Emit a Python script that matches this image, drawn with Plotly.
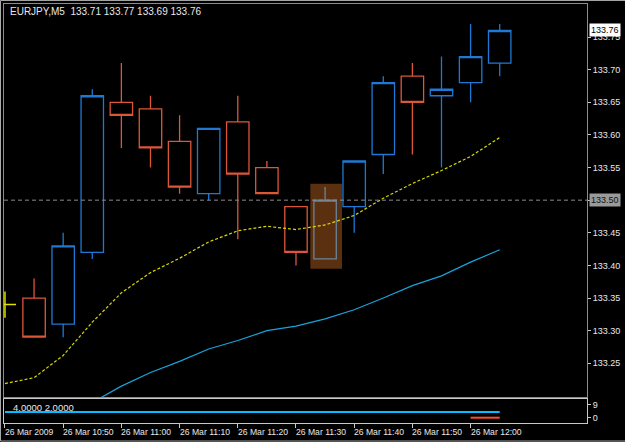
import plotly.graph_objects as go

# ---------------- data ----------------
bar_times = [
    "2009-03-26 10:40", "2009-03-26 10:45", "2009-03-26 10:50", "2009-03-26 10:55",
    "2009-03-26 11:00", "2009-03-26 11:05", "2009-03-26 11:10", "2009-03-26 11:15",
    "2009-03-26 11:20", "2009-03-26 11:25", "2009-03-26 11:30", "2009-03-26 11:35",
    "2009-03-26 11:40", "2009-03-26 11:45", "2009-03-26 11:50", "2009-03-26 11:55",
    "2009-03-26 12:00", "2009-03-26 12:05",
]
# candles from 10:45 to 12:05
c_open  = [133.35, 133.31, 133.42, 133.65, 133.64, 133.59, 133.51, 133.62, 133.55, 133.49,
           133.41, 133.49, 133.57, 133.69, 133.66, 133.68, 133.71]
c_high  = [133.38, 133.45, 133.67, 133.71, 133.66, 133.63, 133.61, 133.66, 133.56, 133.49,
           133.52, 133.56, 133.69, 133.71, 133.72, 133.77, 133.77]
c_low   = [133.29, 133.29, 133.41, 133.58, 133.55, 133.51, 133.50, 133.44, 133.51, 133.40,
           133.41, 133.45, 133.54, 133.57, 133.55, 133.65, 133.69]
c_close = [133.29, 133.43, 133.66, 133.63, 133.58, 133.52, 133.61, 133.54, 133.51, 133.42,
           133.50, 133.56, 133.68, 133.65, 133.67, 133.72, 133.76]
highlight_time = "2009-03-26 11:35"
highlight_box_x = ["2009-03-26 11:32:28", "2009-03-26 11:37:54"]
highlight_box_y = [133.395, 133.525]

# partially visible bar at the left edge (10:40)
edge_high, edge_low, edge_close = 133.36, 133.32, 133.34

ma_fast = [133.219, 133.228, 133.262, 133.313, 133.358, 133.389, 133.411, 133.436, 133.453,
           133.460, 133.455, 133.462, 133.4765, 133.503, 133.5255, 133.5454, 133.567, 133.596]
ma_slow = [None, None, None, 133.19, 133.215, 133.236, 133.253, 133.272, 133.285,
           133.300, 133.307, 133.318, 133.332, 133.350, 133.369, 133.384, 133.405, 133.424]

sub_cyan = [4.0] * 18
sub_red = [None] * 16 + [0.0, 0.0]

price_ticks = [133.25, 133.30, 133.35, 133.40, 133.45, 133.50, 133.55, 133.60, 133.65, 133.70, 133.75]
price_labels = ["133.25", "133.30", "133.35", "133.40", "133.45", "", "133.55", "133.60",
                "133.65", "133.70", "133.75"]
tick_times = ["2009-03-26 10:40", "2009-03-26 10:50", "2009-03-26 11:00", "2009-03-26 11:10",
              "2009-03-26 11:20", "2009-03-26 11:30", "2009-03-26 11:40", "2009-03-26 11:50",
              "2009-03-26 12:00"]
tick_text = ["26 Mar 2009", "26 Mar 10:50", "26 Mar 11:00", "26 Mar 11:10", "26 Mar 11:20",
             "26 Mar 11:30", "26 Mar 11:40", "26 Mar 11:50", "26 Mar 12:00"]
title_text = "EURJPY,M5\u00a0\u00a0133.71 133.77 133.69 133.76"
sub_text = "4.0000 2.0000"
bid_price = 133.76
level_price = 133.50
x_range = ["2009-03-26 10:39:50", "2009-03-26 12:20:00"]
y_range = [133.1984, 133.8006]
y2_range = [-3.76, 13.25]

# ---------------- styling ----------------
FONT = "Liberation Sans, Arial"
TXT = "#e8e8e8"
BULL = "#1e78d4"
BEAR = "#dc5638"
GREYC = "#6a8499"

c_times = bar_times[1:]
norm = [i for i, t in enumerate(c_times) if t != highlight_time]
hl = [i for i, t in enumerate(c_times) if t == highlight_time]

def pick(a, idx):
    return [a[i] for i in idx]

fig = go.Figure()

fig.add_trace(go.Candlestick(
    x=pick(c_times, norm), open=pick(c_open, norm), high=pick(c_high, norm),
    low=pick(c_low, norm), close=pick(c_close, norm),
    increasing=dict(line=dict(color=BULL, width=1.3), fillcolor="rgba(0,0,0,0)"),
    decreasing=dict(line=dict(color=BEAR, width=1.3), fillcolor="rgba(0,0,0,0)"),
    xaxis="x", yaxis="y", hoverinfo="skip",
))
fig.add_trace(go.Candlestick(
    x=pick(c_times, hl), open=pick(c_open, hl), high=pick(c_high, hl),
    low=pick(c_low, hl), close=pick(c_close, hl),
    increasing=dict(line=dict(color=GREYC, width=1.3), fillcolor="rgba(0,0,0,0)"),
    decreasing=dict(line=dict(color=GREYC, width=1.3), fillcolor="rgba(0,0,0,0)"),
    xaxis="x", yaxis="y", hoverinfo="skip",
))
n = len(bar_times)
fig.add_trace(go.Ohlc(
    x=bar_times,
    open=[edge_close] + [None] * (n - 1), high=[edge_high] + [None] * (n - 1),
    low=[edge_low] + [None] * (n - 1), close=[edge_close] + [None] * (n - 1),
    increasing=dict(line=dict(color="#e0e000", width=1.5)),
    decreasing=dict(line=dict(color="#e0e000", width=1.5)),
    tickwidth=0.38, xaxis="x", yaxis="y", hoverinfo="skip",
))
fig.add_trace(go.Scatter(x=bar_times, y=ma_fast, mode="lines",
                         line=dict(color="#d8d800", width=1.2, dash="3px,2px"),
                         xaxis="x", yaxis="y", hoverinfo="skip"))
fig.add_trace(go.Scatter(x=bar_times, y=ma_slow, mode="lines",
                         line=dict(color="#1aa3d9", width=1.2),
                         xaxis="x", yaxis="y", hoverinfo="skip"))
fig.add_trace(go.Scatter(x=bar_times, y=sub_cyan, mode="lines",
                         line=dict(color="#00bfff", width=2),
                         xaxis="x2", yaxis="y2", hoverinfo="skip"))
fig.add_trace(go.Scatter(x=bar_times, y=sub_red, mode="lines",
                         line=dict(color="#ff4a30", width=2),
                         xaxis="x2", yaxis="y2", hoverinfo="skip"))

shapes = [
    dict(type="rect", xref="x", yref="y", layer="below",
         x0=highlight_box_x[0], x1=highlight_box_x[1],
         y0=highlight_box_y[0], y1=highlight_box_y[1],
         fillcolor="#5a3010", line=dict(width=0)),
    dict(type="line", xref="paper", yref="y", x0=0, x1=1, y0=level_price, y1=level_price,
         line=dict(color="#8a8a8a", width=1, dash="4px,3px")),
    # outer window frame
    dict(type="rect", xref="paper", yref="paper", x0=-0.006, x1=1.08, y0=-0.0430, y1=1.0084,
         line=dict(color="#a8a8a8", width=1)),
]

annotations = [
    dict(text=title_text, xref="paper", yref="paper", x=0.0069, y=0.981,
         xanchor="left", yanchor="middle", showarrow=False,
         font=dict(family=FONT, size=10, color=TXT)),
    dict(text=sub_text, xref="paper", yref="paper", x=0.012, y=0.0365,
         xanchor="left", yanchor="middle", showarrow=False,
         font=dict(family=FONT, size=9.5, color=TXT)),
    dict(text=f"{bid_price:.2f}", xref="paper", yref="y", x=1, y=bid_price, xshift=2,
         xanchor="left", yanchor="middle", showarrow=False, bgcolor="#ffffff",
         borderpad=1, font=dict(family=FONT, size=9, color="#000000")),
    dict(text=f"{level_price:.2f}", xref="paper", yref="y", x=1, y=level_price, xshift=2,
         xanchor="left", yanchor="middle", showarrow=False, bgcolor="#9a9a9a",
         borderpad=1, font=dict(family=FONT, size=9, color="#111111")),
]
for t, lab in zip(tick_times, tick_text):
    annotations.append(dict(text=lab, xref="x", yref="paper", x=t, y=-0.0215, xshift=-2,
                            xanchor="left", yanchor="middle", showarrow=False,
                            font=dict(family=FONT, size=8.6, color=TXT)))

fig.update_layout(
    width=625, height=442, margin=dict(l=4, r=38, t=4, b=19),
    paper_bgcolor="#000000", plot_bgcolor="#000000", showlegend=False,
    boxgap=0.23, boxgroupgap=0, hovermode=False,
    xaxis=dict(domain=[0, 1], anchor="y", range=x_range, type="date",
               showgrid=False, zeroline=False, showticklabels=False, ticks="",
               showline=True, mirror=True, linecolor="#8c8c8c", linewidth=1,
               rangeslider=dict(visible=False)),
    xaxis2=dict(domain=[0, 1], anchor="y2", matches="x", range=x_range, type="date",
                showgrid=False, zeroline=False, showticklabels=False,
                tickvals=tick_times, ticks="outside", ticklen=4, tickcolor="#c8c8c8",
                showline=True, mirror=True, linecolor="#c8c8c8", linewidth=1),
    yaxis=dict(domain=[0.0621, 1], range=y_range, side="right", tickvals=price_ticks,
               ticktext=price_labels, ticks="outside", ticklen=3, tickcolor="#c8c8c8",
               tickfont=dict(family=FONT, size=9, color=TXT),
               showgrid=False, zeroline=False, showline=True, mirror=True,
               linecolor="#8c8c8c", linewidth=1),
    yaxis2=dict(domain=[0, 0.0573], range=y2_range, side="right", tickvals=[0, 9],
                ticktext=["0", "9"], ticks="outside", ticklen=3, tickcolor="#c8c8c8",
                tickfont=dict(family=FONT, size=9, color=TXT),
                showgrid=False, zeroline=False, showline=True, mirror=True,
                linecolor="#c8c8c8", linewidth=1),
    shapes=shapes, annotations=annotations,
)

fig.write_html("out.html")
